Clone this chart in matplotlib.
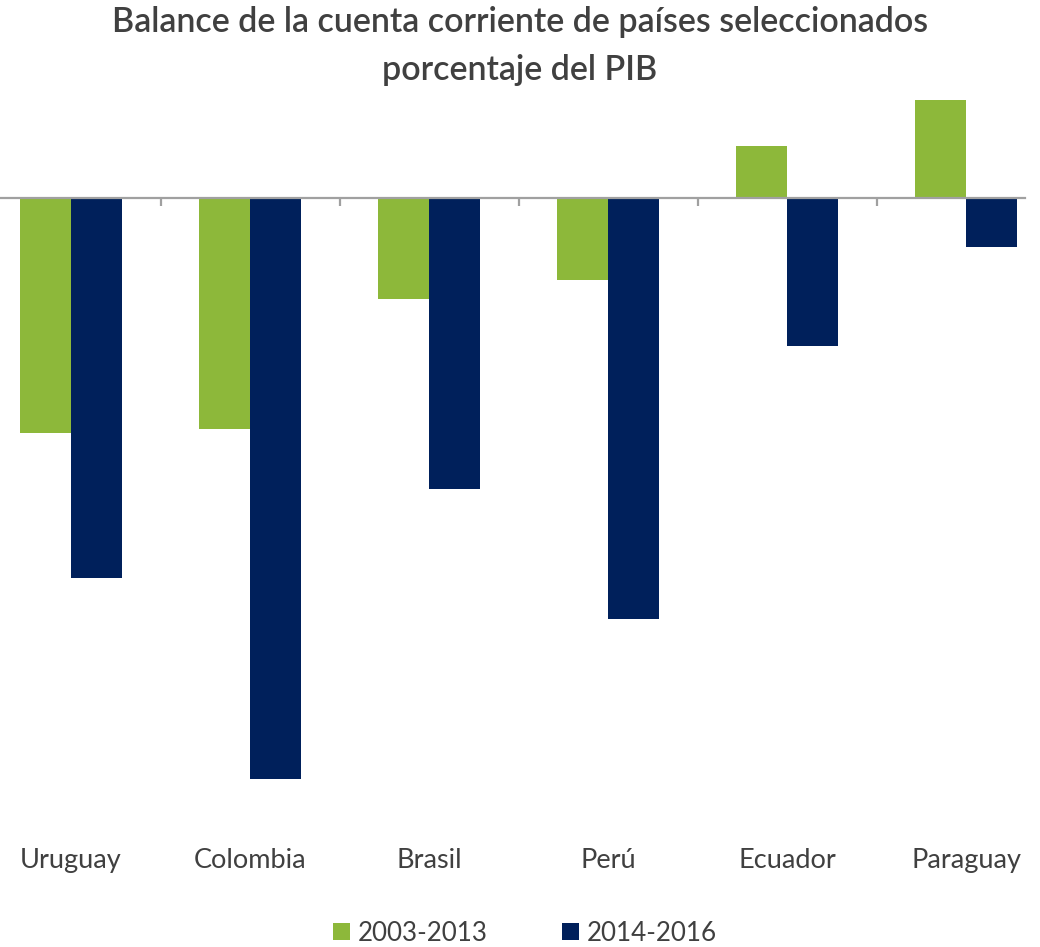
import matplotlib
matplotlib.use("Agg")
import matplotlib.pyplot as plt
import numpy as np

categories = ["Uruguay", "Colombia", "Brasil", "Perú", "Ecuador", "Paraguay"]
series_names = ["2003-2013", "2014-2016"]
v_2003_2013 = [-2.14, -2.10, -0.92, -0.75, 0.47, 0.89]
v_2014_2016 = [-3.45, -5.28, -2.65, -3.83, -1.35, -0.45]

green = "#8DB83A"
navy = "#00205B"
txt = "#404040"

plt.rcParams['font.family'] = ['Lato', 'DejaVu Sans']

W, H = 1040, 947
fig = plt.figure(figsize=(W/100, H/100), dpi=100)
left_px, right_px = -18.5, 1055.5
top_px, bot_px = 90, 820
ax = fig.add_axes([left_px/W, 1 - bot_px/H, (right_px-left_px)/W, (bot_px-top_px)/H])
ax.set_facecolor("none")
zero_px = 198
ppu = 110.0
ax.set_ylim(-(bot_px - zero_px)/ppu, (zero_px - top_px)/ppu)
ax.set_xlim(-0.5, len(categories) - 0.5)

x = np.arange(len(categories))
bw = 51/179
ax.bar(x - bw/2, v_2003_2013, bw, color=green, label=series_names[0], zorder=2)
ax.bar(x + bw/2, v_2014_2016, bw, color=navy, label=series_names[1], zorder=2)

for s in ax.spines.values():
    s.set_visible(False)
ax.set_yticks([])
ax.set_xticks([])
xend = (1025 - left_px) / (right_px - left_px)
ax.axhline(0, xmin=0, xmax=xend, color="#A0A0A0", lw=1.6, zorder=3)
tick_len = 8/ppu
for xt in np.arange(0.5, len(categories) - 1, 1.0):
    ax.plot([xt, xt], [0, -tick_len], color="#A0A0A0", lw=1.6, zorder=3, solid_capstyle="butt")

for xi, c in zip(x, categories):
    ax.text(xi, 1 - (860 - top_px)/(bot_px - top_px), c, transform=ax.get_xaxis_transform(),
            ha="center", va="center", fontsize=19.5, color=txt)

fig.text(0.5, 1 - 22/H, "Balance de la cuenta corriente de países seleccionados",
         ha="center", va="center", fontsize=24.5, fontweight="semibold", color=txt)
fig.text(0.5, 1 - 70/H, "porcentaje del PIB",
         ha="center", va="center", fontsize=24.5, fontweight="semibold", color=txt)

leg = fig.legend(loc="center", bbox_to_anchor=(0.505, 1 - 933/H), ncol=2, frameon=False,
                 fontsize=18.7, handlelength=0.65, handleheight=0.65, handletextpad=0.3,
                 columnspacing=2.85, labelcolor=txt)

fig.savefig("out.png", dpi=100)
